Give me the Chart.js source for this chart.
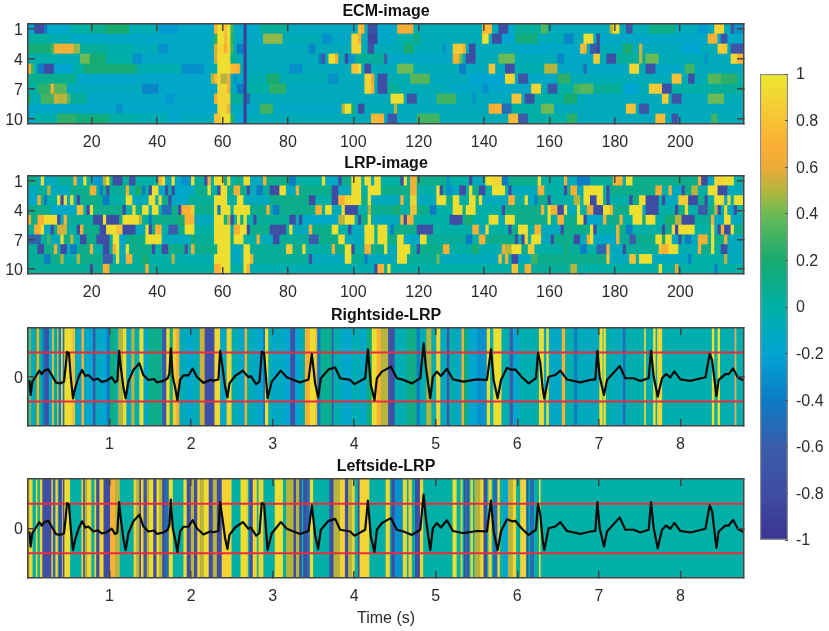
<!DOCTYPE html>
<html>
<head>
<meta charset="utf-8">
<title>ECM and LRP images</title>
<script src="https://cdn.jsdelivr.net/npm/chart.js@4/dist/chart.umd.min.js"></script>
<style>
  html, body { margin: 0; padding: 0; background: #fff; }
  #page { position: relative; width: 829px; height: 631px; overflow: hidden; }
  canvas { position: absolute; }
</style>
</head>
<body>
<div id="page">
  <canvas id="ecm" style="left:0;top:0"></canvas>
  <canvas id="lrp" style="left:0;top:152px"></canvas>
  <canvas id="right" style="left:0;top:304px"></canvas>
  <canvas id="left" style="left:0;top:455px"></canvas>
  <canvas id="cbar" style="left:732px;top:60px"></canvas>
</div>
<script>
// Tick labels
var colTicks = [20, 40, 60, 80, 100, 120, 140, 160, 180, 200];
var rowTicks = [1, 4, 7, 10];
var timeTicks = [1, 2, 3, 4, 5, 6, 7, 8];
var ampTicks = [0];
var cbarTicks = [-1, -0.8, -0.6, -0.4, -0.2, 0, 0.2, 0.4, 0.6, 0.8, 1];

// Colour scale
var cbarStops = [-1, -0.8, -0.6, -0.4, -0.2, 0, 0.2, 0.4, 0.5, 0.6, 0.7, 0.85, 1];
var cbarColors = ['#3b3492', '#3f4ca3', '#3a5cab', '#0c7cc4', '#00a5d2', '#00afa6', '#17ab70', '#6bba55', '#b5b53e', '#ecab38', '#fbb034', '#f5cb35', '#ebe82c'];

var nCols = 219;
var maxTime = 8.78;

// Image rows: column where a run starts, then its value
var ecm1 = [1,-.2, 3,-.8, 6,-.4, 7,-.15, 14,0, 20,.08, 25,.2, 32,-.05, 41,-.25, 47,-.15, 58,.7, 59,.95, 61,.8, 62,.95, 63,.3, 64,-.15, 67,-.9, 68,-.15, 72,.05, 80,-.12, 102,.8, 103,.7, 104,-.08, 105,-.75, 108,-.15, 114,.65, 119,-.08, 140,.75, 143,-.08, 145,-.8, 148,-.15, 150,.05, 158,.35, 160,-.1, 179,.5, 180,.95, 182,-.08, 184,-.7, 186,-.08, 191,.12, 199,-.1, 206,-.25, 209,-.1, 211,.9, 214,-.08, 216,-.7, 217,-.3];
var ecm2 = [1,.02, 8,-.05, 14,-.14, 58,.25, 59,.95, 61,.75, 62,.95, 63,.25, 64,-.1, 67,-.9, 68,-.14, 73,.45, 79,-.08, 91,-.3, 94,-.14, 100,.9, 102,.7, 103,-.08, 105,-.85, 108,-.14, 114,-.02, 119,.12, 121,-.08, 140,.95, 142,-.08, 143,-.8, 146,-.2, 150,.15, 157,-.08, 165,-.35, 168,-.08, 171,.95, 174,-.08, 175,-.8, 176,-.14, 209,.7, 212,-.2, 213,-.7, 215,-.15];
var ecm3 = [1,.18, 8,.3, 9,.68, 15,.45, 17,.05, 25,-.02, 33,-.08, 41,-.3, 44,-.14, 57,-.02, 58,.55, 59,.9, 61,.7, 62,.9, 63,.3, 64,-.1, 65,-.4, 67,-.9, 68,-.1, 87,-.35, 89,-.1, 100,.9, 103,-.08, 105,-.7, 107,-.08, 116,.2, 119,-.08, 128,-.3, 129,-.1, 131,.85, 134,.7, 135,-.08, 136,-.8, 138,-.1, 150,-.15, 170,.8, 171,.7, 172,-.08, 173,-.6, 175,-.85, 176,-.08, 183,.2, 186,-.08, 188,.55, 189,-.1, 201,-.2, 207,-.08, 212,.85, 215,-.08, 216,-.7];
var ecm4 = [1,-.02, 10,-.06, 17,.4, 20,.18, 25,0, 33,-.3, 36,-.14, 58,.55, 59,.95, 63,.05, 65,-.1, 67,-.9, 68,-.1, 90,-.4, 91,-.7, 92,-.1, 93,.95, 95,.7, 96,-.08, 98,-.85, 99,-.3, 101,.05, 110,-.6, 111,-.14, 131,.7, 133,.4, 134,-.08, 135,-.8, 138,-.08, 145,.4, 150,-.08, 163,-.35, 165,-.14, 174,.85, 176,-.08, 178,-.75, 181,.05, 188,.5, 189,.05, 190,.4, 194,-.08, 208,-.3, 209,-.1, 216,.9, 218,.7];
var ecm5 = [1,.7, 2,.3, 3,-.05, 4,-.4, 6,-.8, 9,-.2, 15,0, 18,.18, 34,.05, 35,-.05, 48,-.3, 55,-.15, 57,-.05, 59,.95, 63,.75, 65,.65, 66,-.08, 67,-.9, 68,-.1, 81,-.3, 85,-.1, 100,.8, 102,.95, 103,-.08, 104,-.8, 106,-.08, 114,.4, 119,-.08, 133,-.4, 135,-.1, 142,.8, 144,-.08, 147,-.75, 150,-.05, 159,.5, 163,-.14, 171,-.5, 172,-.14, 185,.9, 188,-.08, 190,-.75, 193,-.14, 202,.3, 205,-.1];
var ecm6 = [1,.08, 16,-.16, 57,.5, 58,.75, 59,.9, 60,.5, 62,.7, 63,-.08, 64,-.3, 65,-.14, 67,-.9, 68,-.05, 74,.2, 78,-.08, 93,-.3, 96,-.1, 104,.9, 106,.6, 107,-.08, 108,-.75, 111,-.05, 118,.35, 124,-.1, 136,-.2, 147,.9, 150,-.08, 151,-.7, 154,-.14, 163,.25, 167,-.08, 198,.8, 201,-.08, 203,-.75, 205,-.08, 209,.35, 213,.25, 218,0];
var ecm7 = [1,0, 4,.25, 8,.65, 9,.35, 13,-.1, 36,-.35, 41,-.16, 59,.9, 62,.7, 63,-.08, 64,-.15, 65,-.4, 67,-.9, 68,0, 75,.25, 80,-.1, 104,.9, 106,.7, 107,-.08, 108,-.75, 111,.05, 115,-.08, 130,-.14, 140,-.3, 142,-.14, 155,.9, 158,-.08, 160,-.7, 163,0, 168,.3, 170,.35, 174,.05, 183,-.2, 188,-.08, 191,.85, 195,-.75, 198,0, 210,.05];
var ecm8 = [1,.2, 2,-.05, 5,.3, 9,.55, 10,.5, 13,.35, 14,.05, 19,-.14, 43,-.25, 46,-.14, 58,.7, 59,.9, 63,.05, 67,-.9, 68,-.5, 69,-.1, 112,.95, 116,-.08, 117,-.7, 120,-.1, 126,.3, 132,-.08, 137,-.3, 138,-.1, 149,.8, 152,-.08, 153,-.75, 156,0, 165,.2, 169,-.1, 195,.85, 197,-.08, 198,-.7, 201,-.1, 209,.4, 214,-.08];
var ecm9 = [1,-.16, 28,-.3, 30,-.16, 59,.9, 62,.7, 63,-.1, 67,-.9, 68,-.14, 72,.3, 76,-.14, 97,.5, 98,.95, 100,.2, 101,-.14, 102,-.8, 104,-.08, 113,.5, 114,-.1, 142,.7, 146,-.5, 149,0, 158,.4, 162,-.1, 184,.8, 187,-.08, 188,-.7, 191,-.1];
var ecm10 = [1,-.16, 3,0, 10,.25, 16,.15, 26,0, 34,-.06, 44,-.16, 48,-.1, 58,.8, 60,.95, 63,.25, 64,-.1, 65,-.2, 67,-.9, 68,-.08, 106,.75, 109,.7, 110,-.14, 111,-.65, 114,-.1, 120,.3, 127,-.08, 148,.75, 151,-.65, 154,0, 166,.25, 169,-.1, 193,.75, 196,-.1, 198,-.7, 200,-.1, 210,.3, 212,-.08];

var lrp1 = [1,.1, 4,-.15, 5,.95, 6,-.1, 10,.05, 15,.7, 16,-.1, 18,.95, 19,0, 21,-.25, 24,.5, 25,.95, 26,.1, 27,-.75, 30,.05, 32,-.75, 34,0, 41,.7, 42,.95, 43,-.1, 45,.95, 46,-.15, 48,-.3, 51,.95, 52,.05, 55,-.8, 56,.7, 57,0, 58,.95, 61,.1, 62,.9, 63,0, 65,.2, 66,0, 67,.95, 69,-.1, 73,.7, 74,.1, 81,-.4, 83,0, 91,.95, 92,-.15, 96,-.8, 97,.1, 100,.95, 103,0, 104,.95, 106,-.1, 107,.95, 109,0, 115,-.8, 116,.95, 117,0, 118,.7, 120,.1, 129,-.3, 130,0, 136,-.8, 137,-.1, 141,.95, 143,.9, 146,-.4, 148,.1, 157,.95, 158,0, 165,.7, 166,-.1, 169,-.4, 173,.05, 180,.7, 183,0, 184,.95, 186,.1, 206,.7, 207,-.8, 209,-.1, 211,.9, 214,.95, 217,0];
var lrp2 = [1,-.1, 4,.05, 7,.5, 8,-.1, 14,.1, 20,.7, 22,0, 23,-.4, 24,.1, 25,-.8, 26,.05, 31,.7, 32,0, 34,.2, 36,-.4, 37,0, 38,-.8, 39,.95, 41,-.15, 43,-.8, 44,0, 45,-.8, 46,-.15, 52,.1, 56,.95, 57,0, 59,-.8, 60,.95, 62,.1, 64,.7, 66,.1, 68,-.8, 69,-.1, 71,-.4, 73,.05, 75,-.8, 78,.95, 80,-.1, 83,.7, 84,.1, 94,-.8, 96,-.1, 100,.95, 103,0, 105,.95, 109,.1, 118,.7, 120,0, 126,.95, 127,-.8, 128,.05, 129,-.3, 131,-.1, 133,-.8, 135,0, 136,.95, 137,.1, 139,-.8, 141,0, 143,.95, 147,0, 148,-.8, 149,-.1, 157,.7, 159,0, 165,-.8, 166,.05, 167,.7, 169,-.1, 171,.95, 177,0, 178,-.8, 179,.1, 193,.7, 195,0, 197,.7, 198,-.1, 201,-.8, 202,.1, 204,.5, 206,0, 209,.95, 212,-.8, 215,-.1];
var lrp3 = [1,-.15, 4,.7, 5,.1, 6,-.4, 7,0, 10,.95, 11,-.8, 12,.95, 13,-.1, 14,.95, 15,0, 16,-.8, 17,.1, 24,-.4, 26,0, 31,.95, 33,-.1, 38,.95, 40,0, 41,.9, 42,.1, 44,-.8, 45,-.15, 50,.05, 58,.95, 62,0, 65,.95, 67,-.1, 75,.1, 87,-.8, 89,0, 94,-.8, 96,.7, 98,.9, 100,.95, 103,.1, 105,.95, 106,-.1, 115,.7, 116,0, 118,.9, 120,-.1, 126,.95, 129,.1, 131,.95, 133,0, 136,.95, 138,.1, 139,.95, 140,-.1, 148,.7, 150,0, 153,.95, 154,-.1, 156,-.4, 157,.1, 160,-.8, 161,0, 168,.5, 170,0, 171,.95, 173,-.8, 175,.95, 177,.1, 178,-.8, 179,0, 185,-.8, 186,.1, 188,.95, 190,-.8, 194,0, 195,-.8, 196,-.1, 200,.85, 203,-.8, 206,.1, 208,-.8, 209,0, 211,.95, 214,-.1, 215,.9, 216,0, 217,.95];
var lrp4 = [1,.1, 8,-.15, 16,.8, 18,0, 19,-.8, 20,.95, 21,.1, 30,-.8, 31,0, 33,.95, 34,.1, 36,.95, 38,-.1, 39,.95, 41,0, 42,-.5, 45,.1, 47,-.8, 48,.7, 51,.85, 52,.1, 58,.95, 59,-.4, 60,.95, 63,0, 64,.95, 69,.1, 74,.7, 75,0, 76,-.4, 78,.1, 89,.7, 91,0, 92,.95, 94,-.1, 97,.95, 98,-.8, 102,0, 105,.5, 106,.1, 113,.2, 115,0, 118,.8, 120,.1, 124,-.4, 126,0, 131,.95, 134,.1, 135,.95, 138,0, 146,-.8, 147,.1, 158,.7, 159,0, 160,.95, 161,.7, 163,-.8, 165,.95, 166,-.1, 169,.95, 170,0, 172,.6, 174,-.8, 177,.95, 179,.7, 180,.1, 185,.95, 189,-.1, 190,-.8, 194,0, 199,-.8, 200,.1, 202,.95, 203,0, 206,-.6, 209,.1, 211,.5, 212,-.8, 213,0, 214,.9, 215,-.1, 217,-.8, 218,0];
var lrp5 = [1,.7, 2,.1, 4,.7, 6,.95, 10,-.8, 11,-.1, 12,.7, 13,.05, 21,-.8, 24,.95, 25,-.8, 29,.1, 30,.95, 35,.5, 36,.05, 38,-.4, 39,.1, 47,.2, 49,.7, 52,-.1, 58,.95, 61,.1, 62,.5, 63,-.8, 64,0, 65,.95, 66,.1, 67,.95, 68,0, 70,-.8, 71,.05, 81,-.8, 83,-.1, 84,-.8, 85,-.15, 96,.5, 98,.95, 101,0, 102,-.8, 103,.1, 105,.95, 106,-.1, 115,.7, 116,-.8, 117,.7, 119,0, 130,-.8, 134,.1, 135,.2, 137,0, 142,.95, 145,-.1, 147,.95, 150,.1, 160,.95, 161,0, 163,.7, 165,.1, 169,.95, 171,-.8, 172,-.15, 177,.7, 178,.1, 182,.7, 183,0, 186,.95, 189,.1, 190,.95, 193,0, 196,.2, 199,.5, 201,-.8, 205,.05, 210,.7, 211,-.1, 214,.95, 216,-.1];
var lrp6 = [1,.05, 3,.7, 5,.95, 6,-.1, 8,-.8, 9,.1, 10,.55, 13,0, 16,-.8, 17,.7, 18,.1, 23,-.8, 25,.95, 28,.8, 30,-.8, 34,-.1, 37,.95, 38,-.8, 39,.1, 40,.7, 42,0, 44,-.6, 47,.1, 49,.95, 52,0, 58,.95, 63,-.1, 64,.7, 66,.95, 68,-.8, 69,.1, 75,-.75, 80,0, 81,.95, 82,-.1, 87,.7, 88,.1, 94,.95, 96,0, 99,-.8, 100,-.1, 104,.95, 107,.05, 108,.95, 111,-.1, 112,-.4, 113,.1, 120,-.75, 125,0, 137,.7, 139,-.1, 141,.9, 142,0, 148,-.8, 149,.1, 151,.95, 154,0, 156,.7, 158,-.1, 164,-.8, 165,.1, 173,.95, 174,-.8, 175,0, 181,.7, 182,.1, 184,-.4, 186,0, 195,-.8, 196,.1, 198,.9, 199,-.8, 200,.95, 205,0, 210,.95, 211,-.1, 212,-.8, 213,.7, 214,-.8, 216,.95, 217,.1];
var lrp7 = [1,-.55, 5,.05, 7,.3, 8,-.1, 11,.95, 12,.1, 14,.5, 15,0, 17,-.8, 19,.1, 22,-.75, 26,0, 27,.95, 29,-.2, 31,.1, 37,.95, 42,-.1, 51,.2, 52,.05, 58,.95, 63,.1, 64,.95, 67,0, 71,.7, 72,-.1, 76,-.8, 78,.05, 87,-.6, 90,.1, 96,.95, 98,-.1, 104,.95, 107,0, 108,.95, 111,.1, 114,.95, 116,-.15, 121,.95, 123,.05, 135,-.4, 137,0, 139,.7, 141,.1, 150,-.8, 151,0, 152,-.8, 153,.9, 154,0, 155,.95, 158,-.1, 161,-.8, 162,.1, 168,-.8, 170,-.1, 172,.7, 173,.95, 174,-.15, 181,.7, 182,.05, 185,-.6, 187,.1, 193,.95, 195,.2, 196,.95, 198,-.1, 200,-.8, 201,0, 202,-.4, 204,-.1, 206,.7, 209,0, 210,.95, 211,.1, 214,.7, 215,-.1];
var lrp8 = [1,.05, 4,-.8, 6,.1, 9,.7, 10,0, 11,-.8, 13,-.1, 14,-.4, 16,.1, 20,.7, 21,0, 24,-.8, 26,.05, 27,.7, 28,.95, 29,-.1, 31,.95, 32,.1, 39,-.8, 40,0, 42,-.8, 44,.1, 49,-.8, 50,0, 51,.7, 52,.1, 59,.95, 63,-.1, 67,.95, 69,.05, 80,.85, 82,.1, 85,.9, 86,0, 94,.7, 95,.1, 98,.95, 100,-.8, 101,0, 104,.7, 106,.1, 110,.95, 111,-.1, 114,.95, 118,.05, 120,-.8, 121,.1, 128,.7, 130,0, 137,.2, 139,-.05, 146,.7, 147,.5, 149,.95, 152,.1, 154,.85, 156,0, 165,.2, 166,.05, 170,-.4, 172,0, 175,-.55, 178,.7, 179,-.1, 183,-.8, 184,.05, 194,.8, 195,.7, 197,.95, 200,-.05, 206,.7, 207,.1, 210,.95, 211,0, 213,-.8, 215,-.1];
var lrp9 = [1,.05, 6,-.4, 8,.1, 11,.5, 12,0, 16,.5, 17,.1, 24,-.6, 27,0, 28,.95, 29,-.1, 31,.7, 33,.05, 36,.2, 38,0, 45,.5, 46,-.05, 58,.95, 63,-.1, 67,.95, 69,.7, 70,.05, 87,-.8, 88,-.1, 98,.95, 100,.05, 104,-.4, 105,-.1, 114,.95, 117,.05, 126,.4, 127,-.1, 145,.8, 146,0, 147,.7, 148,.05, 149,-.8, 151,-.1, 155,.3, 157,.1, 178,.8, 179,-.1, 185,.8, 187,0, 188,.95, 192,-.1, 203,-.4, 204,0, 214,.5, 215,-.1];
var lrp10 = [1,.05, 20,-.8, 21,.05, 24,.7, 26,.05, 37,.7, 38,.02, 58,.7, 60,.95, 63,0, 67,.95, 68,.7, 69,-.05, 107,-.8, 108,.7, 110,.05, 111,.95, 112,0, 149,.8, 151,0, 153,.7, 155,.05, 167,.5, 169,0, 194,.95, 195,0, 199,.6, 200,0, 211,-.4, 212,0];

// Relevance strips: time in seconds where a stripe starts, then its value
var rightStrip = [0,0, .02,.45, .04,-.15, .09,.2, .11,.7, .14,0, .18,-.4, .21,-.75, .26,-.15, .3,.8, .32,0, .36,.55, .38,-.4, .41,.95, .43,-.5, .45,.95, .54,.8, .58,-.08, .62,-.18, .66,.7, .69,-.12, .74,-.2, .8,-.7, .83,-.12, .9,-.2, .97,-.4, 1.01,.15, 1.07,-.05, 1.11,.5, 1.17,.95, 1.21,-.18, 1.27,.5, 1.31,-.05, 1.37,.95, 1.42,-.14, 1.48,.1, 1.65,-.7, 1.7,.95, 1.74,.15, 1.78,.85, 1.82,.7, 1.86,-.08, 1.95,-.18, 2.02,-.08, 2.11,.55, 2.17,-.75, 2.29,.9, 2.36,-.14, 2.44,.9, 2.5,-.05, 2.58,-.16, 2.66,.7, 2.69,-.05, 2.76,-.14, 2.83,-.2, 2.89,-.5, 2.91,.95, 2.95,-.05, 3.01,-.2, 3.05,-.1, 3.13,-.18, 3.22,-.75, 3.28,-.2, 3.34,-.05, 3.4,.7, 3.46,.95, 3.53,.7, 3.55,-.4, 3.59,.08, 3.73,-.7, 3.75,-.05, 3.84,-.14, 3.91,-.2, 3.97,-.05, 4.07,-.14, 4.16,.15, 4.22,.95, 4.28,.7, 4.33,.5, 4.42,-.75, 4.5,-.05, 4.65,.12, 4.77,-.4, 4.81,-.05, 4.89,.5, 4.95,-.05, 5.01,.9, 5.06,-.1, 5.14,-.7, 5.17,-.05, 5.25,-.15, 5.32,.7, 5.35,.15, 5.4,-.18, 5.51,-.3, 5.63,.95, 5.67,-.05, 5.71,.95, 5.81,-.05, 5.91,-.6, 5.95,-.18, 6.02,-.04, 6.27,.95, 6.33,-.15, 6.36,.95, 6.39,-.14, 6.55,.7, 6.59,-.04, 6.7,-.4, 6.74,-.1, 7.01,.95, 7.05,-.1, 7.06,.95, 7.09,-.04, 7.2,-.1, 7.3,-.5, 7.33,-.03, 7.56,.9, 7.58,-.04, 7.67,.95, 7.7,-.04, 7.72,.9, 7.78,-.03, 8.39,.95, 8.42,-.03, 8.46,.95, 8.49,-.03, 8.65,-.2, 8.67,.7, 8.69,-.03];
var leftStrip = [0,.5, .02,.9, .06,0, .1,.9, .12,0, .15,.9, .18,-.75, .29,.8, .31,-.5, .34,.9, .37,0, .38,-.8, .42,.95, .43,-.8, .45,.95, .52,0, .66,.9, .68,-.8, .7,.5, .73,.9, .78,0, .82,.9, .84,-.8, .88,.9, .93,-.8, 1.01,.7, 1.07,.5, 1.13,0, 1.3,.9, 1.33,.5, 1.37,-.8, 1.39,.9, 1.42,-.7, 1.46,.5, 1.49,.95, 1.54,-.8, 1.58,.95, 1.61,.5, 1.65,-.8, 1.68,-.5, 1.73,.95, 1.78,0, 1.91,.95, 1.95,-.8, 2,.5, 2.04,-.8, 2.08,.9, 2.11,.5, 2.16,.95, 2.22,-.8, 2.27,.5, 2.32,-.8, 2.38,.9, 2.5,0, 2.61,.95, 2.67,.9, 2.7,0, 2.72,-.8, 2.76,.9, 2.81,0, 2.83,.9, 2.89,0, 3.03,.95, 3.13,0, 3.17,.5, 3.26,-.8, 3.29,.5, 3.33,-.8, 3.36,0, 3.38,-.8, 3.42,-.5, 3.46,.95, 3.5,0, 3.7,-.8, 3.75,.5, 3.83,.9, 3.89,-.8, 3.93,.5, 3.98,.9, 4.01,0, 4.05,-.8, 4.07,.9, 4.19,0, 4.39,.9, 4.44,0, 4.46,-.8, 4.5,-.3, 4.6,.9, 4.65,0, 4.67,.9, 4.71,0, 4.75,-.8, 4.81,.9, 4.85,0, 5.21,.95, 5.26,0, 5.31,.9, 5.33,0, 5.35,-.8, 5.37,0, 5.38,-.8, 5.41,0, 5.43,.9, 5.46,0, 5.48,.5, 5.55,.9, 5.59,-.8, 5.63,0, 5.65,.9, 5.69,0, 5.71,-.5, 5.76,.9, 5.79,0, 5.83,-.2, 5.89,.5, 5.95,.9, 5.99,0, 6.04,.9, 6.11,0, 6.12,-.8, 6.14,0, 6.16,-.5, 6.21,0, 6.27,.95, 6.29,0];

// ECG trace
var ecgTime = [.016,.033,.053,.098,.139,.168,.2,.249,.29,.344,.393,.442,.462,.479,.503,.524,.552,.581,.622,.663,.703,.74,.802,.855,.904,.965,1.027,1.067,1.096,1.117,1.137,1.17,1.198,1.231,1.292,1.366,1.415,1.476,1.546,1.579,1.661,1.714,1.734,1.751,1.775,1.804,1.832,1.865,1.906,1.967,2.02,2.07,2.151,2.233,2.274,2.335,2.356,2.384,2.417,2.446,2.47,2.54,2.634,2.703,2.732,2.798,2.838,2.867,2.896,2.937,2.99,3.1,3.174,3.256,3.337,3.44,3.481,3.521,3.558,3.591,3.685,3.767,3.828,3.951,4.004,4.074,4.135,4.168,4.204,4.249,4.278,4.339,4.45,4.523,4.605,4.708,4.81,4.851,4.879,4.912,4.933,4.965,5.014,5.063,5.137,5.211,5.342,5.505,5.628,5.677,5.71,5.759,5.8,5.873,5.935,5.975,6.057,6.139,6.229,6.254,6.282,6.311,6.331,6.384,6.466,6.528,6.609,6.773,6.896,6.957,6.982,7.01,7.063,7.1,7.256,7.325,7.427,7.509,7.611,7.64,7.673,7.722,7.775,7.824,7.877,7.926,8,8.123,8.307,8.36,8.389,8.442,8.47,8.552,8.593,8.646,8.703,8.785];
var ecgValue = [-.12,-.73,-.19,.04,.26,.12,.26,.31,.08,-.23,-.26,-.19,.42,1.03,.97,.01,-.87,-.42,.01,.29,.04,.08,-.12,-.07,-.2,-.15,-.01,-.22,-.16,1.07,.42,-.42,-.87,-.19,.29,.56,.08,-.12,-.08,-.22,-.16,-.05,.15,1.17,.01,-.42,-.94,-.12,.07,.07,.34,.01,-.24,-.12,-.15,-.1,1.07,.42,-.39,-.83,-.26,.04,.26,-.01,.04,-.29,-.19,1.03,.97,-.87,-.19,.26,-.01,-.12,-.22,-.1,.94,-.26,-.83,-.05,.31,.39,-.05,-.12,-.29,-.16,-.05,1.13,-.33,-.94,-.05,.22,.42,-.05,-.12,-.26,-.05,1.37,.42,-.39,-.87,.01,.22,.04,.33,-.1,-.19,-.1,-.12,1.13,-.12,-.87,-.12,.37,.29,.31,-.01,-.26,-.05,.99,.56,-.46,-.87,.01,.08,.26,-.1,-.22,-.12,-.1,1.07,.01,-.73,-.12,.45,-.05,-.05,-.16,-.05,1.07,.01,-.8,-.05,.12,-.01,.23,-.1,-.16,-.01,.94,.69,-.78,-.12,.12,.12,.35,-.01,-.16];
var upperLevel = [1, 1];
var lowerLevel = [-1, -1];

var ecmRows = [ecm1, ecm2, ecm3, ecm4, ecm5, ecm6, ecm7, ecm8, ecm9, ecm10];
var lrpRows = [lrp1, lrp2, lrp3, lrp4, lrp5, lrp6, lrp7, lrp8, lrp9, lrp10];

var FONT = '"Liberation Sans", Arial, sans-serif';
var TEXT = '#2b2b2b';
var FRAME = '#454545';

function hexRgb(h) {
    return [parseInt(h.slice(1, 3), 16), parseInt(h.slice(3, 5), 16), parseInt(h.slice(5, 7), 16)];
}

function valueColor(v) {
    var i = 0;
    while (i < cbarStops.length - 2 && v > cbarStops[i + 1]) i++;
    var f = (v - cbarStops[i]) / (cbarStops[i + 1] - cbarStops[i]);
    var a = hexRgb(cbarColors[i]), b = hexRgb(cbarColors[i + 1]);
    return 'rgb(' + [0, 1, 2].map(function (k) { return Math.round(a[k] + (b[k] - a[k]) * f); }).join(',') + ')';
}

// Runs -> floating horizontal bars
function rowCells(rows) {
    var cells = [];
    rows.forEach(function (row, r) {
        for (var j = 0; j < row.length; j += 2) {
            var end = j + 2 < row.length ? row[j + 2] : nCols + 1;
            cells.push({ x: [row[j] - 0.5, end - 0.5], y: r + 1, v: row[j + 1] });
        }
    });
    return cells;
}

function stripCells(strip) {
    var cells = [];
    for (var j = 0; j < strip.length; j += 2) {
        var end = j + 2 < strip.length ? strip[j + 2] : maxTime;
        cells.push({ x: [strip[j], end], y: 0, v: strip[j + 1] });
    }
    return cells;
}

function cellDataset(cells) {
    return {
        type: 'bar',
        indexAxis: 'y',
        data: cells,
        order: 3,
        barPercentage: 1,
        categoryPercentage: 1,
        backgroundColor: function (c) { return c.raw ? valueColor(c.raw.v) : '#00afa6'; }
    };
}

function fixedTicks(values) {
    return function (scale) {
        scale.ticks = values.map(function (v) { return { value: v }; });
    };
}

function tickGrid(len) {
    return { display: true, drawOnChartArea: false, drawTicks: true, tickLength: -len, color: FRAME, lineWidth: 1.5, z: 1, offset: false };
}

function axisBase(axis, position, min, max, values, size) {
    return {
        type: 'linear',
        axis: axis,
        position: position,
        min: min,
        max: max,
        offset: false,
        grid: tickGrid(7),
        border: { display: true, color: FRAME, width: 1.5, z: 2 },
        afterBuildTicks: fixedTicks(values),
        afterFit: function (s) {
            if (axis === 'x') s.height = size; else s.width = size;
        },
        ticks: { display: false, autoSkip: false, maxRotation: 0 }
    };
}

function panelScales(xMin, xMax, xVals, yMin, yMax, yVals, reverse, bottomSize, xTitle) {
    var x = axisBase('x', 'bottom', xMin, xMax, xVals, bottomSize);
    x.ticks = { display: true, autoSkip: false, maxRotation: 0, padding: 16, color: TEXT, font: { family: FONT, size: 16 }, callback: function (v) { return String(v); } };
    if (xTitle) x.title = { display: true, text: xTitle, color: TEXT, font: { family: FONT, size: 16 }, padding: { top: 0, bottom: 3 } };
    var y = axisBase('y', 'left', yMin, yMax, yVals, 28);
    y.reverse = reverse;
    y.ticks = { display: true, autoSkip: false, padding: 12, labelOffset: 1.5, color: TEXT, font: { family: FONT, size: 16 }, callback: function (v) { return String(v); } };
    var yRight = axisBase('y', 'right', yMin, yMax, yVals, 28);
    yRight.reverse = reverse;
    return { x: x, xTop: axisBase('x', 'top', xMin, xMax, xVals, 0), y: y, yRight: yRight };
}

function panel(id, height, datasets, titleText, scales) {
    var cv = document.getElementById(id);
    cv.width = 772;
    cv.height = height;
    return new Chart(cv, {
        type: 'bar',
        data: { datasets: datasets },
        options: {
            responsive: false,
            animation: false,
            events: [],
            layout: { padding: 0 },
            scales: scales,
            plugins: {
                legend: { display: false },
                tooltip: { enabled: false },
                title: {
                    display: true,
                    text: titleText,
                    color: '#111',
                    font: { family: FONT, size: 16, weight: 'bold', lineHeight: 1 },
                    padding: { top: 4, bottom: 4 }
                }
            }
        }
    });
}

function imagePanel(id, height, rows, titleText) {
    panel(id, height, [cellDataset(rowCells(rows))], titleText,
        panelScales(0.5, nCols + 0.5, colTicks, 0.5, 10.5, rowTicks, true, 26));
}

function stripPanel(id, height, strip, titleText, bottomSize, xTitle) {
    var ecg = ecgTime.map(function (t, i) { return { x: t, y: ecgValue[i] }; });
    var edge = [0, maxTime];
    function level(vals) {
        return vals.map(function (v, i) { return { x: edge[i], y: v }; });
    }
    var lineOpts = { type: 'line', pointRadius: 0, borderJoinStyle: 'round', tension: 0 };
    panel(id, height, [
        cellDataset(stripCells(strip)),
        Object.assign({ data: level(upperLevel), borderColor: '#ee2a3e', borderWidth: 2, order: 2 }, lineOpts),
        Object.assign({ data: level(lowerLevel), borderColor: '#ee2a3e', borderWidth: 2, order: 2 }, lineOpts),
        Object.assign({ data: ecg, borderColor: '#0a0a0a', borderWidth: 2.2, order: 1 }, lineOpts)
    ], titleText, panelScales(0, maxTime, timeTicks, -2, 2, ampTicks, false, bottomSize, xTitle));
}

imagePanel('ecm', 150, ecmRows, 'ECM-image');
imagePanel('lrp', 148, lrpRows, 'LRP-image');
stripPanel('right', 148, rightStrip, 'Rightside-LRP', 26);
stripPanel('left', 176, leftStrip, 'Leftside-LRP', 53, 'Time (s)');

// Colour bar
(function () {
    var cv = document.getElementById('cbar');
    cv.width = 97;
    cv.height = 494;
    new Chart(cv, {
        type: 'bar',
        data: {
            datasets: [{
                data: [{ x: 0, y: [-1, 1] }],
                barPercentage: 1,
                categoryPercentage: 1,
                borderWidth: 1.5,
                borderColor: '#8d8d8d',
                borderSkipped: false,
                backgroundColor: function (c) {
                    var area = c.chart.chartArea;
                    if (!area) return '#00afa6';
                    var g = c.chart.ctx.createLinearGradient(0, area.bottom, 0, area.top);
                    cbarStops.forEach(function (s, i) { g.addColorStop((s + 1) / 2, cbarColors[i]); });
                    return g;
                }
            }]
        },
        options: {
            responsive: false,
            animation: false,
            events: [],
            layout: { padding: { left: 28, top: 14, bottom: 14 } },
            scales: {
                x: { type: 'linear', min: -0.5, max: 0.5, offset: false, display: false, grid: { offset: false } },
                y: {
                    type: 'linear',
                    position: 'right',
                    min: -1,
                    max: 1,
                    grid: { display: true, drawOnChartArea: false, drawTicks: true, tickLength: -3, color: '#555', lineWidth: 1, z: 1 },
                    border: { display: false },
                    afterBuildTicks: fixedTicks(cbarTicks),
                    afterFit: function (s) { s.width = 41; s.paddingTop = 0; s.paddingBottom = 0; },
                    ticks: { padding: 11, labelOffset: 1, autoSkip: false, color: TEXT, font: { family: FONT, size: 16 }, callback: function (v) { return String(v); } }
                }
            },
            plugins: { legend: { display: false }, tooltip: { enabled: false } }
        }
    });
})();
</script>
</body>
</html>
